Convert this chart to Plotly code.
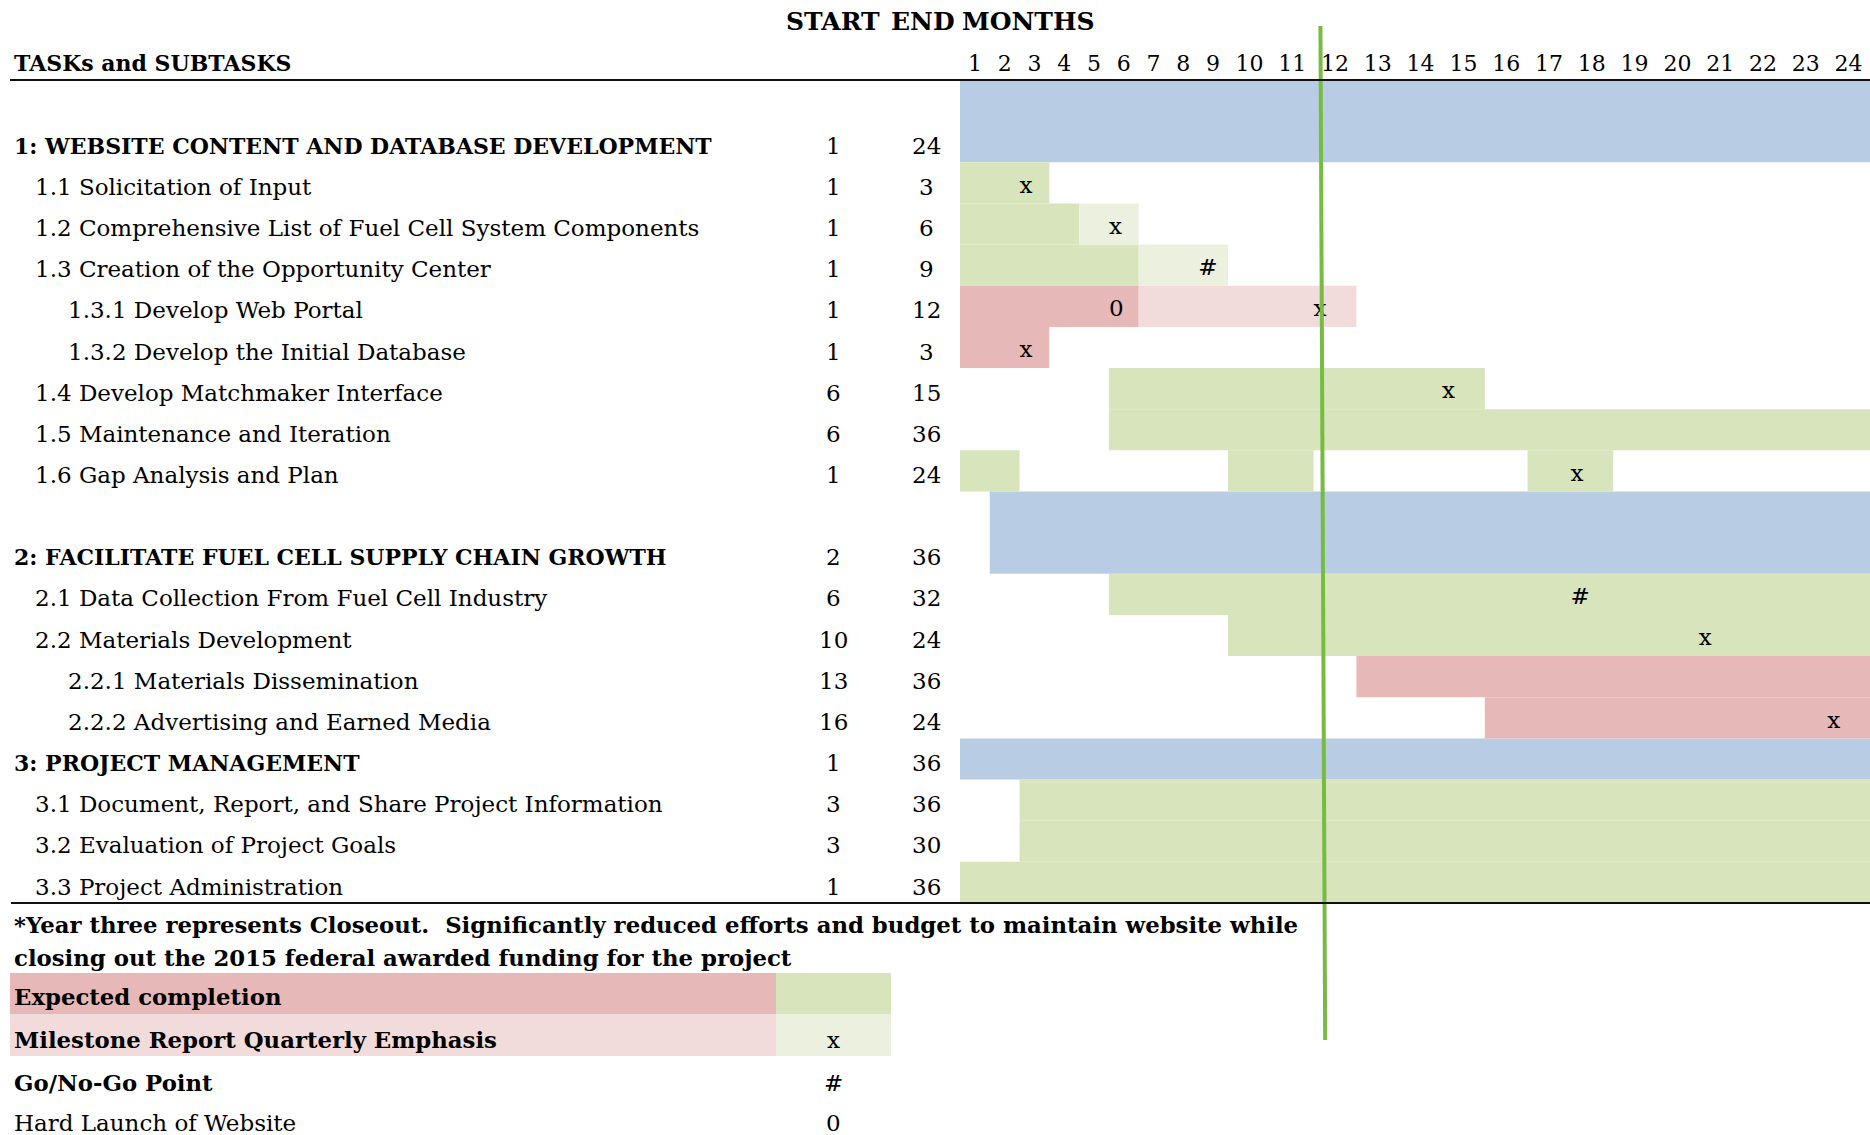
import plotly.graph_objects as go

# ---------------- data ----------------
task_labels = [
    "1: WEBSITE CONTENT AND DATABASE DEVELOPMENT",
    "1.1 Solicitation of Input",
    "1.2 Comprehensive List of Fuel Cell System Components",
    "1.3 Creation of the Opportunity Center",
    "1.3.1 Develop Web Portal",
    "1.3.2 Develop the Initial Database",
    "1.4 Develop Matchmaker Interface",
    "1.5 Maintenance and Iteration",
    "1.6 Gap Analysis and Plan",
    "2: FACILITATE FUEL CELL SUPPLY CHAIN GROWTH",
    "2.1 Data Collection From Fuel Cell Industry",
    "2.2 Materials Development",
    "2.2.1 Materials Dissemination",
    "2.2.2 Advertising and Earned Media",
    "3: PROJECT MANAGEMENT",
    "3.1 Document, Report, and Share Project Information",
    "3.2 Evaluation of Project Goals",
    "3.3 Project Administration",
]
task_level = [0, 1, 1, 1, 2, 2, 1, 1, 1, 0, 1, 1, 2, 2, 0, 1, 1, 1]
task_start = [1, 1, 1, 1, 1, 1, 6, 6, 1, 2, 6, 10, 13, 16, 1, 3, 3, 1]
task_end = [24, 3, 6, 9, 12, 3, 15, 36, 24, 36, 32, 24, 36, 24, 36, 36, 30, 36]
# blank spreadsheet row above the task (covered by the task's bar)
spacer_before = [1, 0, 0, 0, 0, 0, 0, 0, 0, 1, 0, 0, 0, 0, 0, 0, 0, 0]

# shaded month segments of each row
seg_task = ["1", "1.1", "1.2", "1.2", "1.3", "1.3", "1.3.1", "1.3.1", "1.3.2",
            "1.4", "1.5", "1.6", "1.6", "1.6", "2", "2.1", "2.2", "2.2.1",
            "2.2.2", "3", "3.1", "3.2", "3.3"]
seg_first = [1, 1, 1, 5, 1, 7, 1, 7, 1, 6, 6, 1, 10, 17, 2, 6, 10, 13, 16, 1, 3, 3, 1]
seg_last = [24, 3, 4, 6, 6, 9, 6, 12, 3, 15, 36, 2, 11, 18, 36, 32, 24, 36, 24, 36, 36, 30, 36]
seg_kind = ["summary", "planned", "planned", "emphasis", "planned", "emphasis",
            "completion", "completion_emph", "completion", "planned", "planned",
            "planned", "planned", "planned", "summary", "planned", "planned",
            "completion", "completion", "summary", "planned", "planned", "planned"]

# milestone symbols in the month grid
mark_task = ["1.1", "1.2", "1.3", "1.3.1", "1.3.1", "1.3.2", "1.4", "1.6", "2.1", "2.2", "2.2.2"]
mark_month = [3, 6, 9, 6, 12, 3, 15, 18, 18, 21, 24]
mark_symbol = ["x", "x", "#", "0", "x", "x", "x", "x", "#", "x", "x"]

months = list(range(1, 25))
status_line_month = [11.66, 11.77]   # hand drawn progress line (top, bottom)

footnote = ["*Year three represents Closeout.  Significantly reduced efforts and budget to maintain website while",
            "closing out the 2015 federal awarded funding for the project"]
legend_labels = ["Expected completion", "Milestone Report Quarterly Emphasis", "Go/No-Go Point", "Hard Launch of Website"]
legend_symbols = ["", "x", "#", "0"]
legend_bold = [True, True, True, False]

# ---------------- style ----------------
W, H = 1870, 1135
TOP_PX, ROW_PX = 80, 41.15
FONT = "DejaVu Serif"
FS = 23          # regular / mixed-case text
FS_BOLD = 22.8   # bold mixed-case text
FS_CAPS = 22     # bold capitals
FS_HEAD = 25
kind_color = {
    "summary": "#B8CCE4",
    "planned": "#D7E4BC",
    "emphasis": "#EBF1DE",
    "completion": "#E6B8B7",
    "completion_emph": "#F2DCDB",
}
indent_px = [12, 33, 66]
start_col_px, end_col_px = 833, 926
grid_left_px, grid_split_px = 960, 1228


def px_to_row(p):
    return (p - TOP_PX) / ROW_PX - 0.5


def px_x(p):
    return p / W


codes = [lab.split(" ")[0].rstrip(":") for lab in task_labels]
row_of, span_of = {}, {}
r = 0
for c, sp in zip(codes, spacer_before):
    r += sp
    row_of[c] = r
    span_of[c] = 1 + sp
    r += 1
last_row = r - 1

fig = go.Figure()

# bars, drawn on both month axes (narrow months 1-9, wide months 10-24)
for ax in ["x", "x2"]:
    for kind, col in kind_color.items():
        ys, bases, lens, widths = [], [], [], []
        for t, a, b, k in zip(seg_task, seg_first, seg_last, seg_kind):
            if k != kind:
                continue
            span = span_of[t] if kind == "summary" else 1
            ys.append(row_of[t] - (span - 1) / 2)
            widths.append(span)
            bases.append(a - 0.5)
            lens.append(b - a + 1)
        if ys:
            fig.add_trace(go.Bar(
                orientation="h", y=ys, x=lens, base=bases, width=widths,
                marker=dict(color=col, line=dict(width=0)),
                xaxis=ax, yaxis="y", hoverinfo="skip",
            ))

# milestone symbols
for ax, cond in [("x", lambda m: m <= 9), ("x2", lambda m: m > 9)]:
    xs, ys, tx = [], [], []
    for t, m, s in zip(mark_task, mark_month, mark_symbol):
        if cond(m):
            xs.append(m - 0.5)
            ys.append(row_of[t] + 0.1)
            tx.append(s)
    fig.add_trace(go.Scatter(
        x=xs, y=ys, text=tx, mode="text", textposition="middle right",
        textfont=dict(family=FONT, size=FS, color="black"),
        xaxis=ax, yaxis="y", hoverinfo="skip", cliponaxis=False,
    ))

# progress line
fig.add_trace(go.Scatter(
    x=status_line_month, y=[px_to_row(26), px_to_row(1040)], mode="lines",
    line=dict(color="#76BC43", width=4), xaxis="x2", yaxis="y",
    hoverinfo="skip", cliponaxis=False,
))

ann = []


def text(x_px, y, s, bold=False, size=FS, anchor="left"):
    ann.append(dict(x=px_x(x_px), xref="paper", y=y, yref="y", text=s,
                    showarrow=False, xanchor=anchor, yanchor="middle",
                    font=dict(family=FONT, size=size, color="black",
                              weight="bold" if bold else "normal")))


# headers
text(start_col_px, px_to_row(21), "START", True, FS_HEAD, "center")
text(end_col_px - 3, px_to_row(21), "END", True, FS_HEAD, "center")
text(grid_left_px, px_to_row(21), "MONTHS", True, FS_HEAD, "left")
text(indent_px[0], px_to_row(63), "TASKs and SUBTASKS", True, FS_CAPS)

# task rows
for lab, lev, s, e, c in zip(task_labels, task_level, task_start, task_end, codes):
    y = row_of[c] + 0.1
    if lev == 0:
        text(indent_px[lev], y, lab, True, FS_CAPS)
    else:
        text(indent_px[lev], y, lab)
    text(start_col_px, y, str(s), anchor="center")
    text(end_col_px, y, str(e), anchor="center")

# footnote
text(indent_px[0], px_to_row(925), footnote[0], True, FS_BOLD)
text(indent_px[0], px_to_row(958), footnote[1], True, FS_BOLD)

# legend
leg_rows = [px_to_row(997), px_to_row(1040), px_to_row(1083), px_to_row(1123)]
for lab, sym, b, y in zip(legend_labels, legend_symbols, legend_bold, leg_rows):
    text(indent_px[0], y, lab, b, FS_BOLD if b else FS)
    if sym:
        text(start_col_px, y, sym, anchor="center")

shapes = [
    dict(type="line", xref="paper", yref="y", x0=px_x(10), x1=1, y0=-0.5, y1=-0.5,
         line=dict(color="#111111", width=2)),
    dict(type="line", xref="paper", yref="y", x0=px_x(11), x1=1, y0=last_row + 0.5, y1=last_row + 0.5,
         line=dict(color="#111111", width=2)),
]
legend_box = [(px_to_row(973), px_to_row(1014), kind_color["completion"], kind_color["planned"]),
              (px_to_row(1014), px_to_row(1056), kind_color["completion_emph"], kind_color["emphasis"])]
for y0, y1, c1, c2 in legend_box:
    shapes.append(dict(type="rect", xref="paper", yref="y", x0=px_x(10), x1=px_x(776),
                       y0=y0, y1=y1, fillcolor=c1, line=dict(width=0), layer="below"))
    shapes.append(dict(type="rect", xref="paper", yref="y", x0=px_x(776), x1=px_x(891),
                       y0=y0, y1=y1, fillcolor=c2, line=dict(width=0), layer="below"))

axis_common = dict(side="top", anchor="free", position=1 - (TOP_PX - 5) / H, showgrid=False,
                   zeroline=False, showline=False, ticks="", fixedrange=True,
                   tickfont=dict(family=FONT, size=FS_CAPS, color="black"))
fig.update_layout(
    width=W, height=H, margin=dict(l=0, r=0, t=0, b=0),
    paper_bgcolor="white", plot_bgcolor="rgba(0,0,0,0)",
    showlegend=False, barmode="overlay",
    xaxis=dict(domain=[px_x(grid_left_px), px_x(grid_split_px)], range=[0.5, 9.5],
               tickvals=months[:9], ticktext=[str(m) for m in months[:9]], **axis_common),
    xaxis2=dict(domain=[px_x(grid_split_px), 1], range=[9.5, 24.5],
                tickvals=months[9:], ticktext=[str(m) for m in months[9:]], **axis_common),
    yaxis=dict(domain=[0, 1], range=[px_to_row(H), px_to_row(0)], visible=False, fixedrange=True),
    annotations=ann, shapes=shapes,
)

fig.write_html("out.html")
